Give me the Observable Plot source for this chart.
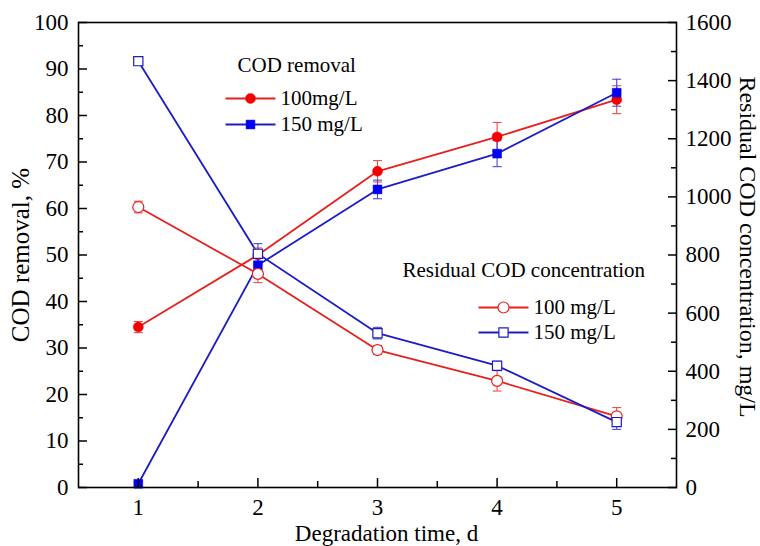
<!DOCTYPE html>
<html>
<head>
<meta charset="utf-8">
<script src="https://cdn.jsdelivr.net/npm/d3@7"></script>
<script src="https://cdn.jsdelivr.net/npm/@observablehq/plot@0.6"></script>
<style>
  body { margin: 0; background: #fff; }
  #chart svg { display: block; }
</style>
</head>
<body>
<div id="chart"></div>
<script>
// Degradation time (days)
const days = [1, 2, 3, 4, 5];

// COD removal, % (left axis) with error bars
const removal100 = [34.5, 50.0, 68.0, 75.4, 83.4];
const removal100Err = [1.2, 1.5, 2.3, 3.1, 3.0];
const removal150 = [0.8, 47.8, 64.1, 71.8, 84.9];
const removal150Err = [0.5, 2.0, 2.0, 2.8, 2.9];

// Residual COD concentration, mg/L (right axis) with error bars
const residual100 = [965, 735, 473, 367, 245];
const residual100Err = [20, 30, 15, 35, 30];
const residual150 = [1467, 804, 531, 419, 225];
const residual150Err = [10, 35, 20, 15, 25];

// Axis ticks
const xTicks = [1, 2, 3, 4, 5];
const xMinorTicks = [1.5, 2.5, 3.5, 4.5];
const removalTicks = [0, 10, 20, 30, 40, 50, 60, 70, 80, 90, 100];
const removalMinorTicks = [5, 15, 25, 35, 45, 55, 65, 75, 85, 95];
const residualTicks = [0, 200, 400, 600, 800, 1000, 1200, 1400, 1600];
const residualMinorTicks = [100, 300, 500, 700, 900, 1100, 1300, 1500];

// Legend texts
const legendRemovalTitle = "COD removal";
const legendRemovalLabels = ["100mg/L", "150 mg/L"];
const legendResidualTitle = "Residual COD concentration";
const legendResidualLabels = ["100 mg/L", "150 mg/L"];

// Both quantities share one vertical scale: 1600 mg/L sits at 100 %
const MG_PER_PERCENT = 16;
const asPercent = (v) => v;
const asResidual = (v) => v / MG_PER_PERCENT;

const SERIF = "Liberation Serif";
const RED = "#e5201e";
const RED_BAR = "#e4504c";
const BLUE = "#1c1cc4";
const BLUE_BAR = "#4a4ad0";

// Horizontal cap for error bars
const cap = {draw(ctx) { ctx.moveTo(-4.5, 0); ctx.lineTo(4.5, 0); }};
// Short line used as legend sample
const segment = {draw(ctx) { ctx.moveTo(-25, 0); ctx.lineTo(25, 0); }};

function rowsOf(values, errors, toY) {
  return days.map((day, i) => ({
    day,
    value: toY(values[i]),
    lo: toY(values[i] - errors[i]),
    hi: toY(values[i] + errors[i])
  }));
}

const series = [
  {rows: rowsOf(removal100, removal100Err, asPercent), color: RED, bar: RED_BAR, symbol: "circle", fill: "#f50000", r: 5},
  {rows: rowsOf(removal150, removal150Err, asPercent), color: BLUE, bar: BLUE_BAR, symbol: "square", fill: "#0000f0", r: 5},
  {rows: rowsOf(residual100, residual100Err, asResidual), color: RED, bar: RED_BAR, symbol: "circle", fill: "#fff", r: 5.5, open: true},
  {rows: rowsOf(residual150, residual150Err, asResidual), color: BLUE, bar: BLUE_BAR, symbol: "square", fill: "#fff", r: 5.2, open: true}
];

const lineMarks = series.map((s) =>
  Plot.line(s.rows, {x: "day", y: "value", stroke: s.color, strokeWidth: 1.8})
);
const barMarks = series.flatMap((s) => [
  Plot.ruleX(s.rows, {x: "day", y1: "lo", y2: "hi", stroke: s.bar, strokeWidth: 1.1}),
  Plot.dot(s.rows, {x: "day", y: "lo", symbol: cap, r: 4, fill: "none", stroke: s.bar, strokeWidth: 1.1}),
  Plot.dot(s.rows, {x: "day", y: "hi", symbol: cap, r: 4, fill: "none", stroke: s.bar, strokeWidth: 1.1})
]);
const dotMarks = series.map((s) =>
  Plot.dot(s.rows, {
    x: "day", y: "value", symbol: s.symbol, r: s.r,
    fill: s.fill, stroke: s.open ? s.color : s.fill, strokeWidth: s.open ? 1.2 : 0.5
  })
);

// Legend entries, placed relative to the top-left corner of the frame
function legendEntry(label, s, dx, dy) {
  return [
    Plot.dot([null], {frameAnchor: "top-left", dx, dy, symbol: segment, r: 5, fill: "none", stroke: s.color, strokeWidth: 1.8}),
    Plot.dot([null], {frameAnchor: "top-left", dx, dy, symbol: s.symbol, r: s.r,
      fill: s.fill, stroke: s.open ? s.color : s.fill, strokeWidth: s.open ? 1.2 : 0.5}),
    Plot.text([label], {frameAnchor: "top-left", dx: dx + 30, dy, text: (d) => d, textAnchor: "start", lineAnchor: "middle", fontSize: 21, fontFamily: SERIF})
  ];
}

const legendMarks = [
  Plot.text([legendRemovalTitle], {frameAnchor: "top-left", dx: 159, dy: 43, text: (d) => d, textAnchor: "start", lineAnchor: "middle", fontSize: 21, fontFamily: SERIF}),
  ...legendEntry(legendRemovalLabels[0], series[0], 172, 76),
  ...legendEntry(legendRemovalLabels[1], series[1], 172, 102),
  Plot.text([legendResidualTitle], {frameAnchor: "top-left", dx: 324, dy: 248, text: (d) => d, textAnchor: "start", lineAnchor: "middle", fontSize: 21, fontFamily: SERIF}),
  ...legendEntry(legendResidualLabels[0], series[2], 425, 285),
  ...legendEntry(legendResidualLabels[1], series[3], 425, 310)
];

const axisMarks = [
  // bottom axis: labels, inward major and minor ticks
  Plot.axisX({ticks: xTicks, tickFormat: (v) => String(v), tickSize: 0, tickPadding: 11, label: null, fontSize: 23, fontFamily: SERIF}),
  Plot.axisX({ticks: xTicks, tickSize: -9, tickFormat: () => "", label: null, strokeWidth: 1.5}),
  Plot.axisX({ticks: xMinorTicks, tickSize: -6, tickFormat: () => "", label: null, strokeWidth: 1.5}),
  // left axis: COD removal
  Plot.axisY({ticks: removalTicks, tickFormat: (v) => String(v), tickSize: 0, tickPadding: 10, label: null, fontSize: 23, fontFamily: SERIF}),
  Plot.axisY({ticks: removalTicks, tickSize: -9, tickFormat: () => "", label: null, strokeWidth: 1.5}),
  Plot.axisY({ticks: removalMinorTicks, tickSize: -5, tickFormat: () => "", label: null, strokeWidth: 1.5}),
  // right axis: residual COD concentration
  Plot.axisY({anchor: "right", ticks: residualTicks.map(asResidual), tickFormat: (v) => String(Math.round(v * MG_PER_PERCENT)), tickSize: 0, tickPadding: 9, label: null, fontSize: 23, fontFamily: SERIF}),
  Plot.axisY({anchor: "right", ticks: residualTicks.map(asResidual), tickSize: -9, tickFormat: () => "", label: null, strokeWidth: 1.5}),
  Plot.axisY({anchor: "right", ticks: residualMinorTicks.map(asResidual), tickSize: -6, tickFormat: () => "", label: null, strokeWidth: 1.5}),
  // axis titles
  Plot.text(["COD removal, %"], {frameAnchor: "left", dx: -58, text: (d) => d, rotate: -90, fontSize: 25, textAnchor: "middle", lineAnchor: "middle", fontFamily: SERIF}),
  Plot.text(["Residual COD concentration, mg/L"], {frameAnchor: "right", dx: 71, dy: -8, text: (d) => d, rotate: 90, fontSize: 24, textAnchor: "middle", lineAnchor: "middle", fontFamily: SERIF}),
  Plot.text(["Degradation time, d"], {frameAnchor: "bottom", dx: 9, dy: 46, text: (d) => d, fontSize: 23, textAnchor: "middle", lineAnchor: "middle", fontFamily: SERIF})
];

const chart = Plot.plot({
  width: 760,
  height: 546,
  marginTop: 22,
  marginBottom: 59,
  marginLeft: 78,
  marginRight: 84,
  style: {fontFamily: SERIF, color: "#000", background: "#fff"},
  x: {domain: [0.5, 5.5]},
  y: {domain: [0, 100]},
  marks: [
    ...lineMarks,
    ...barMarks,
    ...dotMarks,
    ...legendMarks,
    ...axisMarks,
    Plot.frame({stroke: "#000", strokeWidth: 1.6})
  ]
});

document.getElementById("chart").append(chart);
</script>
</body>
</html>
